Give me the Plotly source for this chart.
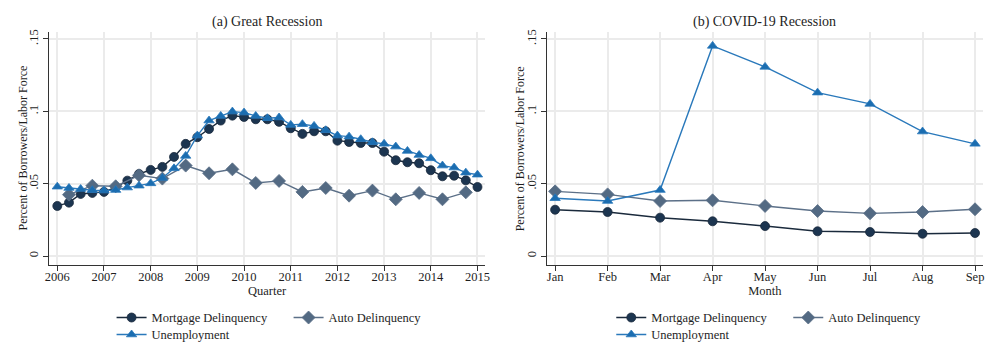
import plotly.graph_objects as go
from plotly.subplots import make_subplots

# ---- Panel (a): Great Recession (quarterly) ----
quarters = [2006 + 0.25 * i for i in range(37)]
mortgage_gr = [0.0346, 0.0369, 0.0429, 0.0436, 0.0443, 0.0475, 0.0521, 0.0567, 0.0595, 0.0616,
               0.0685, 0.0775, 0.0821, 0.0878, 0.0936, 0.0970, 0.0961, 0.0945, 0.0945, 0.0927,
               0.0883, 0.0844, 0.0862, 0.0862, 0.0797, 0.0788, 0.0781, 0.0781, 0.0721, 0.0662,
               0.0648, 0.0641, 0.0593, 0.0551, 0.0555, 0.0523, 0.0477]
unemp_gr = [0.0479, 0.0470, 0.0463, 0.0455, 0.0452, 0.0456, 0.0473, 0.0486, 0.0502, 0.0539,
            0.0606, 0.0692, 0.0832, 0.0936, 0.0968, 0.0998, 0.0991, 0.0968, 0.0952, 0.0957,
            0.0906, 0.0911, 0.0899, 0.0869, 0.0832, 0.0825, 0.0807, 0.0786, 0.0775, 0.0756,
            0.0726, 0.0698, 0.0675, 0.0625, 0.0611, 0.0576, 0.0562]
auto_quarters = [2006.25 + 0.5 * i for i in range(18)]
auto_gr = [0.0424, 0.0486, 0.0482, 0.0558, 0.0535, 0.0625, 0.0572, 0.0599, 0.0505, 0.0519,
           0.0443, 0.0470, 0.0417, 0.0452, 0.0392, 0.0436, 0.0392, 0.0440]
year_ticks = list(range(2006, 2016))
year_labels = [str(y) for y in year_ticks]

# ---- Panel (b): COVID-19 Recession (monthly) ----
months = list(range(1, 10))
month_labels = ["Jan", "Feb", "Mar", "Apr", "May", "Jun", "Jul", "Aug", "Sep"]
mortgage_cv = [0.0320, 0.0304, 0.0265, 0.0240, 0.0207, 0.0171, 0.0166, 0.0154, 0.0159]
auto_cv = [0.0447, 0.0426, 0.0380, 0.0385, 0.0346, 0.0311, 0.0295, 0.0304, 0.0323]
unemp_cv = [0.0399, 0.0380, 0.0456, 0.1452, 0.1307, 0.1129, 0.1051, 0.0860, 0.0775]

y_ticks = [0, 0.05, 0.1, 0.15]
y_labels = ["0", ".05", ".1", ".15"]
y_title = "Percent of Borrowers/Labor Force"

FONT = "Liberation Serif, Times New Roman, serif"
TXT = "#1e1e1e"
C_MORT, C_MORT_L = "#1c3550", "#1a2a3c"
C_AUTO, C_AUTO_L = "#536a83", "#5c7088"
C_UNEMP, C_UNEMP_L = "#1b6db0", "#2a79bb"

fig = make_subplots(rows=1, cols=2, horizontal_spacing=0.066,
                    subplot_titles=("(a) Great Recession", "(b) COVID-19 Recession"))


def add_series(x, y, name, color, lcolor, symbol, size, col, legend):
    fig.add_trace(go.Scatter(
        x=x, y=y, name=name, mode="lines+markers",
        line=dict(color=lcolor, width=1.4),
        marker=dict(color=color, symbol=symbol, size=size,
                    line=dict(color=lcolor, width=0.8)),
        legend=legend,
    ), row=1, col=col)


add_series(quarters, mortgage_gr, "Mortgage Delinquency", C_MORT, C_MORT_L, "circle", 9, 1, "legend")
add_series(auto_quarters, auto_gr, "Auto Delinquency", C_AUTO, C_AUTO_L, "diamond", 10, 1, "legend")
add_series(quarters, unemp_gr, "Unemployment", C_UNEMP, C_UNEMP_L, "triangle-up", 9, 1, "legend2")

add_series(months, mortgage_cv, "Mortgage Delinquency", C_MORT, C_MORT_L, "circle", 9, 2, "legend3")
add_series(months, auto_cv, "Auto Delinquency", C_AUTO, C_AUTO_L, "diamond", 10, 2, "legend3")
add_series(months, unemp_cv, "Unemployment", C_UNEMP, C_UNEMP_L, "triangle-up", 9, 2, "legend4")

axis_common = dict(showline=True, linecolor="#333333", linewidth=1.2,
                   ticks="outside", ticklen=5, tickcolor="#333333", tickwidth=1.2,
                   showgrid=True, gridcolor="#ebebeb", gridwidth=1.5, zeroline=False,
                   tickfont=dict(family=FONT, size=12.5, color=TXT))

fig.update_xaxes(axis_common)
fig.update_yaxes(axis_common)

fig.update_xaxes(range=[2005.822, 2015.165], tickvals=year_ticks, ticktext=year_labels,
                 ticklabelstandoff=-5,
                 title=dict(text="Quarter", font=dict(family=FONT, size=12.5, color=TXT), standoff=3),
                 row=1, col=1)
fig.update_xaxes(range=[0.842, 9.152], tickvals=months, ticktext=month_labels,
                 ticklabelstandoff=-5,
                 title=dict(text="Month", font=dict(family=FONT, size=12.5, color=TXT), standoff=3),
                 row=1, col=2)
fig.update_yaxes(range=[-0.0062, 0.1548], tickvals=y_ticks, ticktext=y_labels, tickangle=-90)

for a in fig.layout.annotations:
    a.font = dict(family=FONT, size=14, color=TXT)

for xr, yr in (("x domain", "y domain"), ("x2 domain", "y2 domain")):
    fig.add_annotation(text=y_title, xref=xr, yref=yr, x=0, y=0.5, xshift=-27,
                       textangle=-90, showarrow=False, xanchor="center", yanchor="middle",
                       font=dict(family=FONT, size=12, color=TXT))

leg_common = dict(orientation="h", font=dict(family=FONT, size=12.5, color=TXT),
                  bgcolor="rgba(0,0,0,0)", entrywidth=132, entrywidthmode="pixels",
                  xanchor="left", yanchor="middle", tracegroupgap=0, itemwidth=30)

# page body has an 8px margin, so the figure is 8px smaller than the window
fig.update_layout(
    width=992, height=356,
    margin=dict(l=41, r=13, t=24, b=99),
    plot_bgcolor="white", paper_bgcolor="white",
    font=dict(family=FONT, size=12, color=TXT),
    legend=dict(leg_common, x=0.067, y=-0.227),
    legend2=dict(leg_common, x=0.067, y=-0.30),
    legend3=dict(leg_common, x=0.602, y=-0.227),
    legend4=dict(leg_common, x=0.602, y=-0.30),
)

fig.write_html("out.html")
